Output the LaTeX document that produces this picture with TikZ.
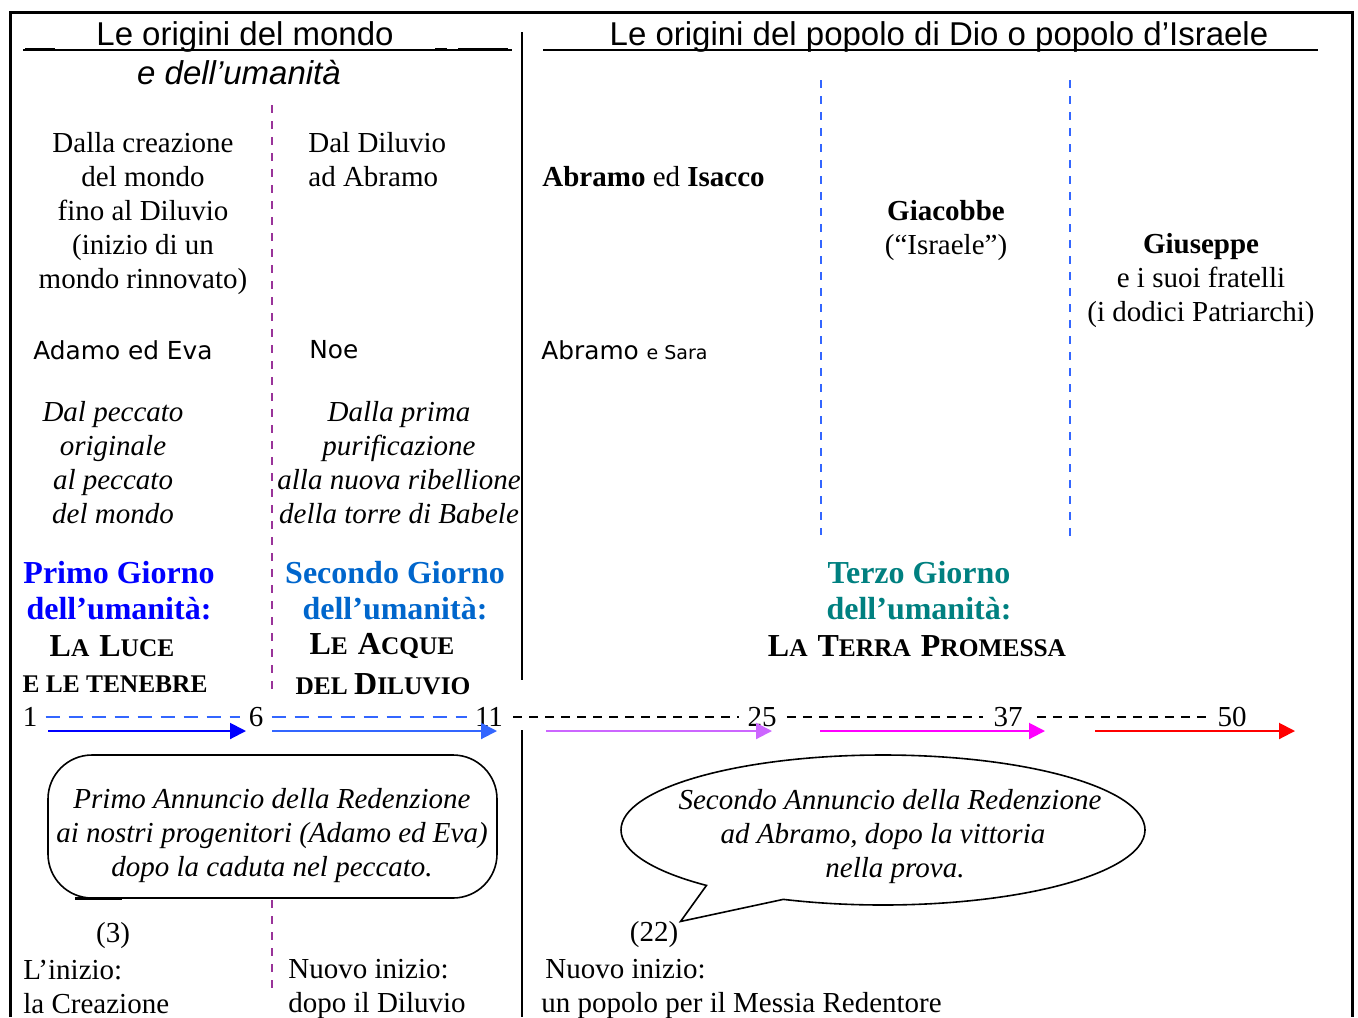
\documentclass[tikz,border=0pt]{standalone}
\usepackage{fontspec}
\setmainfont{Liberation Serif}
\newfontfamily\headfont{Liberation Sans}
\newfontfamily\handfont{DejaVu Sans}
\usetikzlibrary{arrows.meta,shapes.callouts}
\definecolor{dayone}{RGB}{0,0,255}
\definecolor{daytwo}{RGB}{0,102,204}
\definecolor{daythree}{RGB}{0,128,128}
\definecolor{flood}{RGB}{51,102,255}
\definecolor{lilac}{RGB}{204,102,255}
\definecolor{fuchsia}{RGB}{255,0,255}
\definecolor{fire}{RGB}{255,0,0}
\definecolor{plum}{RGB}{153,51,153}
\tikzset{
  day arrow/.style={draw=#1, line width=1pt, -{Triangle[length=8pt,width=8pt,fill=#1]}},
  day arrow/.default=blue,
  era line/.style={draw=#1, line width=0.6pt, dash pattern=on 4pt off 4pt},
  era line/.default=plum,
  body/.style={inner sep=0pt, align=center, font=\fontsize{14.5}{17}\selectfont},
  note/.style={body, font=\itshape\fontsize{14.5}{17}\selectfont},
  head/.style={inner sep=0pt, font=\headfont\fontsize{16.5}{20}\selectfont},
  hand/.style={inner sep=0pt, anchor=west, font=\handfont\fontsize{12.4}{15}\selectfont},
  title/.style={inner sep=0pt, align=center, text=#1, font=\bfseries\fontsize{16}{18}\selectfont},
}
\newcommand{\capword}[2]{{\fontsize{16}{18}\selectfont#1}{\fontsize{12.7}{18}\selectfont#2}}
\newcommand{\smallword}[1]{{\fontsize{12.7}{18}\selectfont#1}}

\begin{document}
\begin{tikzpicture}[x=0.5pt,y=-0.5pt]
  \useasboundingbox (0,0) rectangle (1358,1017);
  % Frame
  \draw[line width=1.5pt] (10,1017) -- (10,12) -- (1352,12) -- (1352,1017);
  \draw[line width=1pt] (522,32) -- (522,680);
  \draw[line width=1pt] (522,730) -- (522,1017);

  % Headers
  \node (head1) [head] at (245,37) {Le origini del mondo};
  \node (head1b) [head, font=\headfont\itshape\fontsize{16.5}{20}\selectfont] at (239,73) {e dell’umanità};
  \node (head2) [head] at (939,37) {Le origini del popolo di Dio o popolo d’Israele};
  \draw[line width=1pt] (23,50) -- (512,50);
  \draw[line width=1.4pt] (25,49) -- (55,49) (435,49) -- (447,49) (458,49) -- (508,49);
  \draw[line width=1pt] (543,50) -- (1318,50);

  % Dividers
  \draw[era line=plum] (272,105) -- (272,690);
  \draw[era line=plum] (272,900) -- (272,995);
  \draw[era line=flood] (821,80) -- (821,535);
  \draw[era line=flood] (1070,80) -- (1070,540);

  % Periods
  \node (creazione) [body] at (143,213.5) {Dalla creazione\\del mondo\\fino al Diluvio\\(inizio di un\\mondo rinnovato)};
  \node (diluvio) [body, anchor=west, align=left] at (308,160) {Dal Diluvio\\ad Abramo};
  \node (isacco) [body, anchor=west] at (542,177) {\textbf{Abramo} ed \textbf{Isacco}};
  \node (giacobbe) [body] at (946,230.5) {\textbf{Giacobbe}\\(“Israele”)};
  \node (giuseppe) [body] at (1201,281) {\textbf{Giuseppe}\\e i suoi fratelli\\(i dodici Patriarchi)};

  % Persons
  \node (adamo) [hand] at (33,350) {Adamo ed Eva};
  \node (noe) [hand] at (309,350) {Noe};
  \node (abramo) [hand] at (541,350) {Abramo {\fontsize{9.5}{12}\selectfont e Sara}};

  \node (peccato) [note] at (113,463) {Dal peccato\\originale\\al peccato\\del mondo};
  \node (babele) [note] at (399,463) {Dalla prima\\purificazione\\alla nuova ribellione\\della torre di Babele};

  % Days
  \node (giorno1) [title=dayone] at (119,591) {Primo Giorno\\dell’umanità:};
  \node (luce) [inner sep=0pt, font=\bfseries] at (112,646) {\capword{L}{A}\enspace\capword{L}{UCE}};
  \node (tenebre) [inner sep=0pt, font=\bfseries] at (115,684) {\smallword{E LE TENEBRE}};
  \node (giorno2) [title=daytwo] at (395,591) {Secondo Giorno\\dell’umanità:};
  \node (acque) [inner sep=0pt, font=\bfseries] at (382,646) {\capword{L}{E}\enspace\capword{A}{CQUE}};
  \node (delDiluvio) [inner sep=0pt, font=\bfseries] at (383,684) {\smallword{DEL }\capword{D}{ILUVIO}};
  \node (giorno3) [title=daythree] at (919,591) {Terzo Giorno\\dell’umanità:};
  \node (terra) [inner sep=0pt, font=\bfseries] at (917,646) {\capword{L}{A}\enspace\capword{T}{ERRA}\enspace\capword{P}{ROMESSA}};

  % Time line
  \node (n1) [body] at (30,717) {1};
  \node (n6) [body] at (256,717) {6};
  \node (n11) [body] at (489,717) {11};
  \node (n25) [body] at (762,717) {25};
  \node (n37) [body] at (1008,717) {37};
  \node (n50) [body] at (1232,717) {50};
  \draw[flood, line width=1pt, dash pattern=on 7pt off 4.5pt, shorten <=4pt, shorten >=4pt] (n1) -- (n6);
  \draw[flood, line width=1pt, dash pattern=on 7pt off 4.5pt, shorten <=4pt, shorten >=4pt] (n6) -- (n11);
  \draw[line width=0.8pt, dash pattern=on 4.5pt off 3.5pt, shorten <=5pt, shorten >=4pt] (n11) -- (n25);
  \draw[line width=0.8pt, dash pattern=on 4.5pt off 3.5pt, shorten <=5pt, shorten >=5pt] (n25) -- (n37);
  \draw[line width=0.8pt, dash pattern=on 4.5pt off 3.5pt, shorten <=7pt, shorten >=4pt] (n37) -- (n50);

  % Arrows
  \draw[day arrow=dayone] (48,731) -- (246,731);
  \draw[day arrow=flood] (272,731) -- (497,731);
  \draw[day arrow=lilac] (546,731) -- (772,731);
  \draw[day arrow=fuchsia] (820,731) -- (1045,731);
  \draw[day arrow=fire] (1095,731) -- (1295,731);

  % Callouts
  \node (annuncio1) [draw, line width=0.8pt, rounded corners=22pt, minimum width=224.5pt, minimum height=71.5pt] at (272.5,826.5) {};
  \node (annuncio1 text) [note] at (272,836) {Primo Annuncio della Redenzione\\ai nostri progenitori (Adamo ed Eva)\\dopo la caduta nel peccato.};
  \draw[line width=1.5pt] (75,898) -- (122,898);
  \node (n22) [body] at (654,935) {(22)};
  \node (annuncio2) [ellipse callout, draw, line width=0.8pt, minimum width=262pt, minimum height=75pt,
    callout absolute pointer={([xshift=1pt]n22.north east)}, callout pointer arc=20] at (883,830) {};
  \node (annuncio2 text) [note] at (883,837) {\hspace*{7pt}Secondo Annuncio della Redenzione\\ad Abramo, dopo la vittoria\\\hspace*{12pt}nella prova.};

  % Beginnings
  \node (n3) [body] at (113,936) {(3)};
  \node (inizio1) [body, anchor=west, align=left] at (23,987) {L’inizio:\\la Creazione};
  \node (inizio2) [body, anchor=west, align=left] at (288,989) {Nuovo inizio:\\dopo il Diluvio};
  \node (inizio3) [body, anchor=west, align=left] at (541,989) {\hspace*{2pt}Nuovo inizio:\\un popolo per il Messia Redentore};
\end{tikzpicture}
\end{document}
